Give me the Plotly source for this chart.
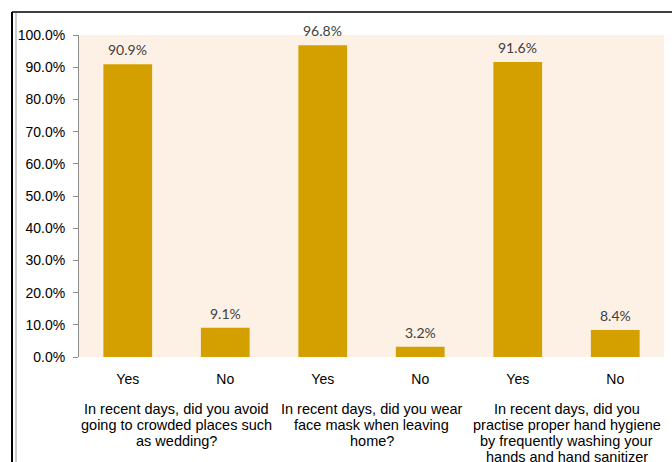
import plotly.graph_objects as go

answers = ["Yes", "No", "Yes", "No", "Yes", "No"]
values = [90.9, 9.1, 96.8, 3.2, 91.6, 8.4]
questions = [
    ["In recent days, did you avoid", "going to crowded places such", "as wedding?"],
    ["In recent days, did you wear", "face mask when leaving", "home?"],
    ["In recent days, did you", "practise proper hand hygiene",
     "by frequently washing your", "hands and hand sanitizer"],
]
y_ticks = [0, 10, 20, 30, 40, 50, 60, 70, 80, 90, 100]
y_tick_labels = [f"{v:.1f}%" for v in y_ticks]

xpos = list(range(len(answers)))
AX_FONT = "Liberation Sans, Arial, sans-serif"
PLOT_H = 322  # pixel height of plot area

fig = go.Figure()
fig.add_trace(go.Bar(
    x=xpos, y=values,
    marker=dict(color="#D4A000", line=dict(width=0)),
    width=0.5,
))

for xi, v in zip(xpos, values):
    fig.add_annotation(
        x=xi, y=v, xref="x", yref="y", text=f"{v:.1f}%",
        showarrow=False, yanchor="bottom", yshift=4,
        font=dict(family="Lato, sans-serif", size=14, color="#404040"),
    )

for i, lines in enumerate(questions):
    for k, line in enumerate(lines):
        ypx = 52 + 16 * k  # pixels below the axis
        fig.add_annotation(
            x=2 * i + 0.5, xref="x", y=-ypx / PLOT_H, yref="paper",
            text=line, showarrow=False, yanchor="middle", xanchor="center",
            font=dict(family=AX_FONT, size=14.5, color="#000000"),
        )

# outer chart frame
fig.add_shape(type="line", xref="paper", yref="paper",
              x0=-67 / 585, x1=-67 / 585, y0=1 + 23 / PLOT_H, y1=-0.5,
              line=dict(color="#000000", width=2))
fig.add_shape(type="line", xref="paper", yref="paper",
              x0=-63 / 585, x1=-63 / 585, y0=1 + 22 / PLOT_H, y1=-0.5,
              line=dict(color="#9a9a9a", width=1))
fig.add_shape(type="line", xref="paper", yref="paper",
              x0=-67 / 585, x1=602 / 585, y0=1 + 23 / PLOT_H, y1=1 + 23 / PLOT_H,
              line=dict(color="#000000", width=1.5))
fig.add_shape(type="line", xref="paper", yref="paper",
              x0=602 / 585, x1=602 / 585, y0=1 + 23 / PLOT_H, y1=-0.5,
              line=dict(color="#000000", width=1.5))

fig.update_layout(
    width=672, height=462,
    margin=dict(l=79, r=8, t=35, b=105),
    paper_bgcolor="#FFFFFF",
    plot_bgcolor="#FDF1E6",
    showlegend=False,
    bargap=0.5,
    xaxis=dict(
        tickmode="array", tickvals=xpos, ticktext=answers,
        range=[-0.5, 5.5], showgrid=False, zeroline=False, showline=False,
        ticks="outside", ticklen=9, tickcolor="rgba(0,0,0,0)",
        tickfont=dict(family=AX_FONT, size=14, color="#000000"),
    ),
    yaxis=dict(
        tickmode="array", tickvals=y_ticks, ticktext=y_tick_labels,
        range=[0, 100], showgrid=False, zeroline=False,
        showline=True, linecolor="#8C8C8C", linewidth=1,
        ticks="outside", ticklen=5, tickcolor="#8C8C8C",
        ticklabelstandoff=5,
        tickfont=dict(family=AX_FONT, size=14, color="#000000"),
    ),
)

fig.write_html("out.html")
